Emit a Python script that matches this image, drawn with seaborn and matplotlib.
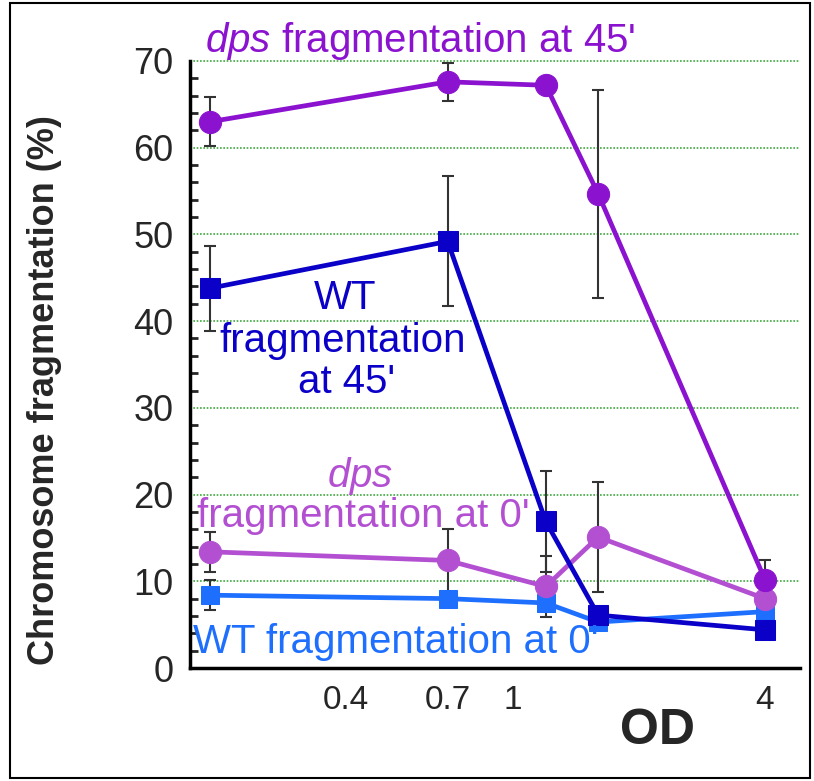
import matplotlib
matplotlib.use("Agg")
import matplotlib.pyplot as plt
import seaborn as sns
import pandas as pd
from matplotlib.patches import Rectangle
from matplotlib.ticker import NullFormatter

# ---- data ----
od = [0.19, 0.7, 1.2, 1.6, 4.0]
dps_45 = [63.0, 67.6, 67.2, 54.7, 10.2]
dps_45_err = [2.8, 2.2, 0.0, 12.0, 2.3]
wt_45 = [43.8, 49.2, 16.9, 6.1, 4.4]
wt_45_err = [4.9, 7.5, 5.8, 0.0, 0.0]
dps_0 = [13.4, 12.4, 9.4, 15.1, 8.0]
dps_0_err = [2.3, 3.6, 3.5, 6.3, 0.0]
wt_0 = [8.4, 8.0, 7.5, 5.3, 6.5]
wt_0_err = [1.7, 0.0, 0.0, 0.0, 0.0]
x_ticks = [0.4, 0.7, 1, 4]
x_tick_labels = ["0.4", "0.7", "1", "4"]
y_ticks = [0, 10, 20, 30, 40, 50, 60, 70]

C_DPS45 = "#8B12CF"
C_WT45 = "#0A00C8"
C_DPS0 = "#B350D2"
C_WT0 = "#1F6FFF"

sns.set_style("white")
plt.rcParams["font.family"] = ["Liberation Sans", "DejaVu Sans"]
plt.rcParams["mathtext.fontset"] = "custom"
plt.rcParams["mathtext.it"] = "Liberation Sans:italic"
plt.rcParams["mathtext.rm"] = "Liberation Sans"

W, H = 814, 781
fig = plt.figure(figsize=(W / 100, H / 100), dpi=100)
ax = fig.add_axes([190 / W, 1 - 668 / H, (800 - 190) / W, (668 - 61) / H])

series = [
    (wt_0, wt_0_err, C_WT0, "s", 13),
    (dps_0, dps_0_err, C_DPS0, "o", 16),
    (wt_45, wt_45_err, C_WT45, "s", 14),
    (dps_45, dps_45_err, C_DPS45, "o", 16),
]
for vals, errs, col, mk, ms in series:
    df = pd.DataFrame({"OD": od, "val": vals, "err": errs})
    sub = df[df["err"] > 0]
    ax.errorbar(sub["OD"], sub["val"], yerr=sub["err"], fmt="none",
                ecolor="#333333", elinewidth=1.5, capsize=4, capthick=1.5, zorder=2)
    sns.lineplot(data=df, x="OD", y="val", color=col, marker=mk, markersize=ms,
                 markeredgecolor=col, linewidth=3.4, ax=ax, zorder=3)

ax.set_xscale("log")
ax.set_xlim(0.17, 4.85)
ax.set_ylim(0, 70)
ax.set_xticks(x_ticks)
ax.set_xticklabels(x_tick_labels)
ax.xaxis.set_minor_locator(matplotlib.ticker.FixedLocator([1]))
ax.xaxis.set_minor_formatter(NullFormatter())
ax.tick_params(axis="x", which="major", length=0, labelsize=24, pad=12)
ax.tick_params(axis="x", which="minor", length=8, width=1.5, direction="in")
ax.set_yticks(y_ticks)
ax.yaxis.set_minor_locator(matplotlib.ticker.MultipleLocator(2))
ax.tick_params(axis="y", which="major", length=9, width=2, direction="in", labelsize=26, pad=12)
ax.tick_params(axis="y", which="minor", length=6, width=2, direction="in", left=True)

for yv in y_ticks[1:]:
    ax.axhline(yv, color="#3FA83F", linestyle=(0, (1, 1)), linewidth=1.2, zorder=1,
               clip_on=False)

for s in ["top", "right"]:
    ax.spines[s].set_visible(False)
ax.spines["left"].set_linewidth(2.5)
ax.spines["bottom"].set_linewidth(2.5)
ax.spines["left"].set_color("black")
ax.spines["bottom"].set_color("black")

ax.set_xlabel("")
ax.set_ylabel("")
fig.text(45 / W, 1 - 390 / H, "Chromosome fragmentation (%)", rotation=90,
         ha="center", va="center", fontsize=26, fontweight="bold")
fig.text(657 / W, 1 - 731 / H, "OD", ha="center", va="center", fontsize=36, fontweight="bold")

def ftxt(x, y, s, col, **kw):
    fig.text(x / W, 1 - y / H, s, color=col, ha="center", va="center", fontsize=29, **kw)

ftxt(420, 41, r"$\it{dps}$ fragmentation at 45'", C_DPS45)
ftxt(345, 298, "WT", C_WT45)
ftxt(343, 341, "fragmentation", C_WT45)
ftxt(347, 382, "at 45'", C_WT45)
ftxt(360, 476, r"$\it{dps}$", C_DPS0)
ftxt(363, 516, "fragmentation at 0'", C_DPS0)
ftxt(396, 642, "WT fragmentation at 0'", C_WT0)

fig.patches.append(Rectangle((10 / W, 3 / H), (810 - 10) / W, (778 - 3) / H,
                             transform=fig.transFigure, fill=False, edgecolor="black",
                             linewidth=1.5))

fig.savefig("out.png", dpi=100)
